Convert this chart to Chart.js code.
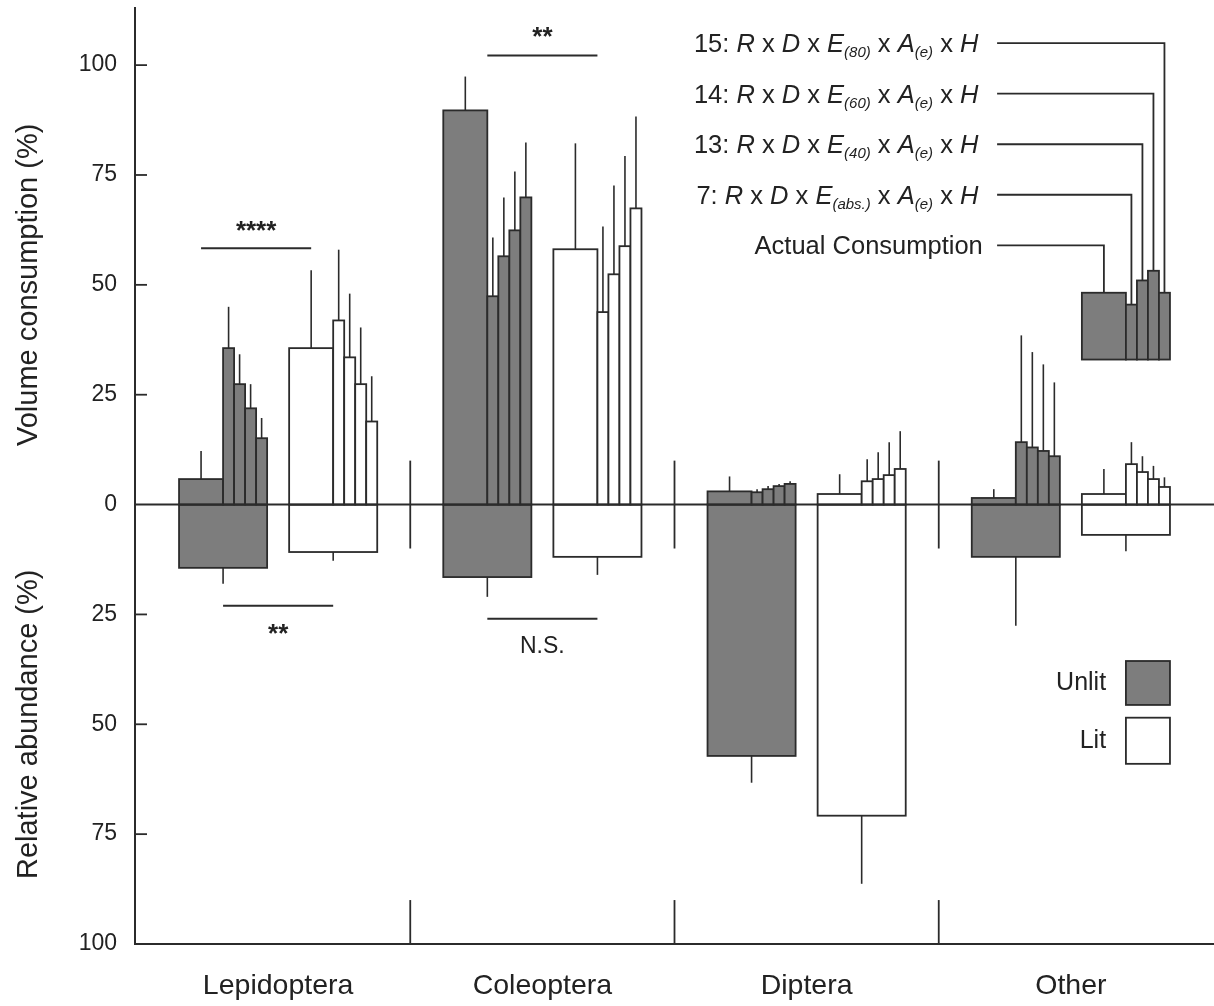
<!DOCTYPE html>
<html>
<head>
<meta charset="utf-8">
<script src="https://cdn.jsdelivr.net/npm/chart.js@4/dist/chart.umd.min.js"></script>
<style>
  html, body { margin: 0; padding: 0; background: #fff; }
  #wrap { width: 1214px; height: 1006px; }
</style>
</head>
<body>
<div id="wrap"><canvas id="insectChart" width="1214" height="1006"></canvas></div>
<script>
// insect consumption vs abundance, unlit / lit

const categories = ['Lepidoptera', 'Coleoptera', 'Diptera', 'Other'];
const groupNames = ['Unlit', 'Lit'];

// consumption (%) per category: [actual, model 7, 13, 14, 15]
const unlitConsumption = [
    [5.8, 35.6, 27.4, 21.9, 15.1],
    [89.7, 47.4, 56.5, 62.4, 69.9],
    [3.0, 2.8, 3.5, 4.2, 4.7],
    [1.5, 14.2, 13.0, 12.2, 11.0]
];
const unlitConsumptionErr = [
    [12.2, 45.0, 34.2, 27.4, 19.7],
    [97.4, 60.8, 69.9, 75.8, 82.4],
    [6.4, 3.5, 4.2, 4.7, 5.3],
    [3.5, 38.5, 34.7, 31.9, 27.8]
];
const litConsumption = [
    [35.6, 41.9, 33.5, 27.4, 18.9],
    [58.1, 43.8, 52.4, 58.8, 67.4],
    [2.4, 5.3, 5.8, 6.7, 8.1],
    [2.4, 9.2, 7.4, 5.8, 4.0]
];
const litConsumptionErr = [
    [53.3, 58.0, 48.0, 40.3, 29.2],
    [82.2, 63.3, 72.6, 79.3, 88.3],
    [6.9, 10.3, 11.9, 14.2, 16.7],
    [8.1, 14.2, 11.0, 8.8, 6.2]
];

// relative abundance (%), drawn downwards
const unlitAbundance = [14.4, 16.5, 57.2, 11.9];
const unlitAbundanceErr = [18.0, 21.0, 63.3, 27.6];
const litAbundance = [10.8, 11.9, 70.8, 6.9];
const litAbundanceErr = [12.8, 16.0, 86.3, 10.6];

// key inset
const insetBase = 33;
const insetValues = [48.2, 45.5, 51.0, 53.2, 48.2];
const modelIds = ['7', '13', '14', '15'];
const modelEffSubs = ['abs.', '40', '60', '80'];

// significance labels
const sigLabels = ['****', '**', '**', 'N.S.'];

const yTicks = [100, 75, 50, 25, 0, -25, -50, -75, -100];

const FONT = '"Liberation Sans", Arial, Helvetica, sans-serif';
const GREY = '#7d7d7d';
const INK = '#2b2b2b';

// layout bits (in axis units)
const GROUP_OFFSET = [3, 13];
const CAT_WIDTH = 24;
const LEADER_Y = [59, 70.5, 82, 93.5, 105];
const SIG = [
    { from: 5, to: 15, y: 58.3, ty: 60.5, label: 0 },
    { from: 31, to: 41, y: 102.2, ty: 104.6, label: 1 },
    { from: 7, to: 17, y: -23, ty: -31.2, label: 2 },
    { from: 31, to: 41, y: -26, ty: -32.4, label: 3 }
];

function richSegments(i) {
    // i = 0 -> actual consumption, else model formula
    if (i === 0) return [{ t: 'Actual Consumption' }];
    return [
        { t: modelIds[i - 1] + ': ' },
        { t: 'R', it: true }, { t: ' x ' },
        { t: 'D', it: true }, { t: ' x ' },
        { t: 'E', it: true }, { t: '(' + modelEffSubs[i - 1] + ')', it: true, sub: true }, { t: ' x ' },
        { t: 'A', it: true }, { t: '(e)', it: true, sub: true }, { t: ' x ' },
        { t: 'H', it: true }
    ];
}

const barsPlugin = {
    id: 'insectBars',
    afterDraw(chart) {
        const { ctx, chartArea } = chart;
        const xs = chart.scales.x;
        const ys = chart.scales.y;
        const px = v => xs.getPixelForValue(v);
        const py = v => ys.getPixelForValue(v);

        ctx.save();
        ctx.lineCap = 'butt';

        function box(x0, x1, y0, y1, fill) {
            const l = px(x0), r = px(x1);
            const t = py(Math.max(y0, y1)), b = py(Math.min(y0, y1));
            ctx.fillStyle = fill;
            ctx.fillRect(l, t, r - l, b - t);
            ctx.strokeStyle = INK;
            ctx.lineWidth = 1.8;
            ctx.strokeRect(l, t, r - l, b - t);
        }
        function vline(xv, y0, y1, w) {
            ctx.strokeStyle = INK;
            ctx.lineWidth = w || 1.6;
            ctx.beginPath();
            ctx.moveTo(px(xv), py(y0));
            ctx.lineTo(px(xv), py(y1));
            ctx.stroke();
        }
        function hline(x0, x1, yv, w) {
            ctx.strokeStyle = INK;
            ctx.lineWidth = w || 2;
            ctx.beginPath();
            ctx.moveTo(px(x0), py(yv));
            ctx.lineTo(px(x1), py(yv));
            ctx.stroke();
        }

        const cons = [unlitConsumption, litConsumption];
        const consErr = [unlitConsumptionErr, litConsumptionErr];
        const abund = [unlitAbundance, litAbundance];
        const abundErr = [unlitAbundanceErr, litAbundanceErr];
        const fills = [GREY, '#ffffff'];

        categories.forEach((c, i) => {
            for (let g = 0; g < 2; g++) {
                const g0 = CAT_WIDTH * i + GROUP_OFFSET[g];
                // abundance below zero
                box(g0, g0 + 8, 0, -abund[g][i], fills[g]);
                vline(g0 + 4, -abund[g][i], -abundErr[g][i]);
                // consumption above zero
                const vals = cons[g][i];
                const errs = consErr[g][i];
                vals.forEach((v, k) => {
                    const a = k === 0 ? g0 : g0 + 3 + k;
                    const b = k === 0 ? g0 + 4 : g0 + 4 + k;
                    box(a, b, 0, v, fills[g]);
                });
                vals.forEach((v, k) => {
                    const mid = k === 0 ? g0 + 2 : g0 + 3.5 + k;
                    vline(mid, v, errs[k]);
                });
            }
        });

        // zero line
        ctx.strokeStyle = INK;
        ctx.lineWidth = 2;
        ctx.beginPath();
        ctx.moveTo(chartArea.left, py(0));
        ctx.lineTo(chartArea.right, py(0));
        ctx.stroke();

        // category separators
        for (let i = 1; i < categories.length; i++) {
            vline(CAT_WIDTH * i, -10, 10, 1.8);
            vline(CAT_WIDTH * i, -100, -90, 1.8);
        }

        // inward y ticks
        ctx.strokeStyle = INK;
        ctx.lineWidth = 1.8;
        yTicks.filter(t => t !== 0 && t !== -100).forEach(t => {
            ctx.beginPath();
            ctx.moveTo(chartArea.left, py(t));
            ctx.lineTo(chartArea.left + 12, py(t));
            ctx.stroke();
        });

        // significance bars
        SIG.forEach(s => {
            hline(s.from, s.to, s.y, 2);
            const label = sigLabels[s.label];
            ctx.fillStyle = '#222';
            ctx.textAlign = 'center';
            if (label.indexOf('*') >= 0) {
                ctx.font = 'bold 26px ' + FONT;
                ctx.textBaseline = 'alphabetic';
            } else {
                ctx.font = '23px ' + FONT;
                ctx.textBaseline = 'middle';
            }
            ctx.fillText(label, px((s.from + s.to) / 2), py(s.ty));
        });

        // key inset: floating bars at the "Other / Lit" slot
        const k0 = CAT_WIDTH * 3 + GROUP_OFFSET[1];
        insetValues.forEach((v, k) => {
            const a = k === 0 ? k0 : k0 + 3 + k;
            const b = k === 0 ? k0 + 4 : k0 + 4 + k;
            box(a, b, insetBase, v, GREY);
        });
        insetValues.forEach((v, k) => {
            const mid = k === 0 ? k0 + 2 : k0 + 3.5 + k;
            const ly = LEADER_Y[k];
            ctx.strokeStyle = INK;
            ctx.lineWidth = 1.8;
            ctx.beginPath();
            ctx.moveTo(px(77.3), py(ly));
            ctx.lineTo(px(mid), py(ly));
            ctx.lineTo(px(mid), py(v));
            ctx.stroke();

            // label text, right aligned
            const segs = richSegments(k);
            const mainSize = 25.5, subSize = 15;
            const textRight = k === 0 ? px(76.0) : px(75.6);
            let total = 0;
            segs.forEach(s => {
                ctx.font = (s.it ? 'italic ' : '') + (s.sub ? subSize : mainSize) + 'px ' + FONT;
                s.w = ctx.measureText(s.t).width;
                total += s.w;
            });
            let cx = textRight - total;
            const base = py(ly) + mainSize * 0.36;
            ctx.fillStyle = '#222';
            ctx.textAlign = 'left';
            ctx.textBaseline = 'alphabetic';
            segs.forEach(s => {
                ctx.font = (s.it ? 'italic ' : '') + (s.sub ? subSize : mainSize) + 'px ' + FONT;
                ctx.fillText(s.t, cx, s.sub ? base + 5 : base);
                cx += s.w;
            });
        });

        // legend
        const legendY = [[-35.6, -45.6], [-48.5, -59]];
        groupNames.forEach((name, g) => {
            box(89, 93, legendY[g][0], legendY[g][1], fills[g]);
            ctx.fillStyle = '#222';
            ctx.font = '25px ' + FONT;
            ctx.textAlign = 'right';
            ctx.textBaseline = 'middle';
            ctx.fillText(name, px(87.2), py((legendY[g][0] + legendY[g][1]) / 2));
        });

        // y axis titles
        ctx.fillStyle = '#222';
        ctx.font = '29px ' + FONT;
        ctx.textAlign = 'center';
        ctx.textBaseline = 'middle';
        [['Volume consumption (%)', 50], ['Relative abundance (%)', -50]].forEach(([t, v]) => {
            ctx.save();
            ctx.translate(chartArea.left - 106, py(v));
            ctx.rotate(-Math.PI / 2);
            ctx.fillText(t, 0, 0);
            ctx.restore();
        });

        ctx.restore();
    }
};

const ctx = document.getElementById('insectChart').getContext('2d');
window.insectChart = new Chart(ctx, {
    type: 'scatter',
    data: { datasets: [{ data: [], pointRadius: 0 }] },
    options: {
        responsive: false,
        animation: false,
        devicePixelRatio: 1,
        layout: { padding: { top: 8, right: 0, left: 0, bottom: 0 } },
        plugins: {
            legend: { display: false },
            tooltip: { enabled: false }
        },
        scales: {
            x: {
                type: 'linear',
                min: -1,
                max: 97,
                grid: { display: false, drawTicks: false },
                border: { display: true, color: INK, width: 2 },
                afterBuildTicks: axis => {
                    axis.ticks = categories.map((c, i) => ({ value: CAT_WIDTH * i + 12 }));
                },
                afterFit: axis => {
                    axis.height = 62;
                    axis.paddingLeft = 0;
                    axis.paddingRight = 0;
                },
                ticks: {
                    autoSkip: false,
                    maxRotation: 0,
                    padding: 25,
                    color: '#222',
                    font: { family: FONT, size: 28.5 },
                    callback: v => categories[Math.round((v - 12) / CAT_WIDTH)] || ''
                }
            },
            y: {
                type: 'linear',
                min: -100,
                max: 113,
                grid: { display: false, drawTicks: false },
                border: { display: true, color: INK, width: 2 },
                afterBuildTicks: axis => {
                    axis.ticks = yTicks.map(v => ({ value: v }));
                },
                afterFit: axis => {
                    axis.width = 135;
                    axis.paddingTop = 0;
                    axis.paddingBottom = 0;
                },
                ticks: {
                    padding: 18,
                    color: '#222',
                    font: { family: FONT, size: 23 },
                    callback: v => String(Math.abs(v))
                }
            }
        }
    },
    plugins: [barsPlugin]
});
</script>
</body>
</html>
